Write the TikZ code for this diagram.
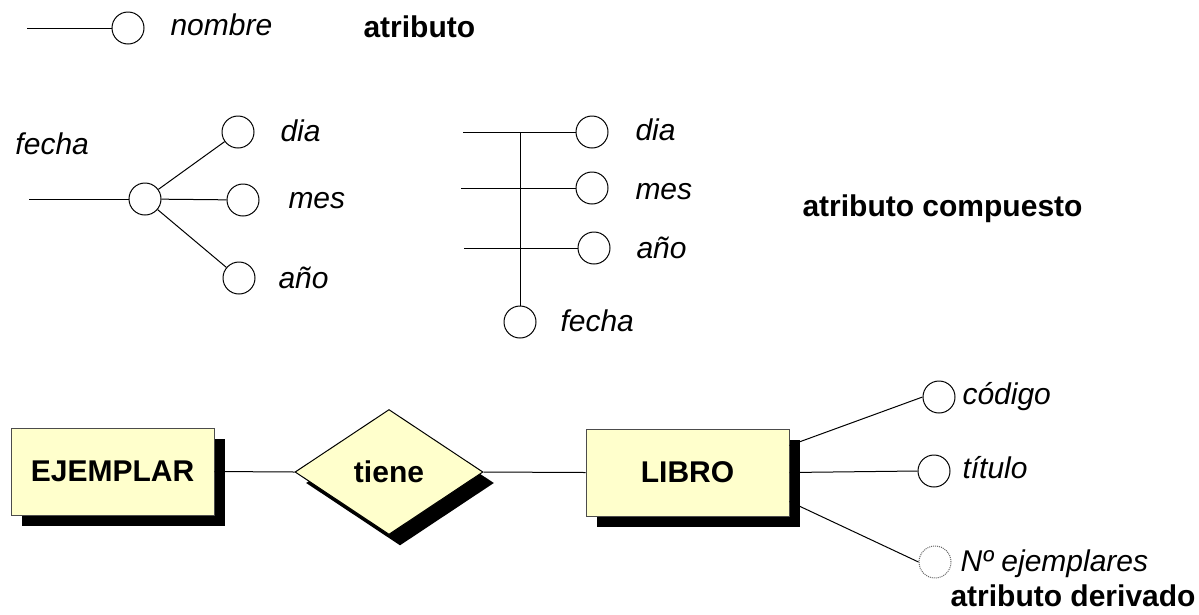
\documentclass[tikz,border=0pt]{standalone}
\usepackage{fontspec}
\setmainfont{Liberation Sans}
\usepackage{tikz}
\usetikzlibrary{shapes.geometric,shadows}
\definecolor{erfill}{RGB}{255,255,204}
\newcommand{\ERsz}{\fontsize{30}{36}\selectfont}
\tikzset{
  attr/.style={circle, draw, minimum size=32pt, inner sep=0pt},
  derived/.style={attr, draw=black!60, densely dotted},
  lbl/.style={anchor=base west, inner sep=0pt, font=\ERsz\itshape},
  tag/.style={anchor=base west, inner sep=0pt, font=\ERsz\bfseries},
  ershadow/.style={drop shadow={shadow xshift=11pt, shadow yshift=-11pt, opacity=1, fill=black}},
  entity/.style={rectangle, draw=black!70, fill=erfill, minimum width=203pt, minimum height=87pt, font=\ERsz\bfseries, ershadow},
  relation/.style={diamond, draw, fill=erfill, minimum width=188pt, minimum height=125pt, inner sep=0pt, font=\ERsz\bfseries, ershadow}
}

\begin{document}
\begin{tikzpicture}[x=1pt, y=-1pt, line width=1pt]
  \useasboundingbox (0,0) rectangle (1199,614);

  %% simple attribute
  \coordinate (n0) at (27,28);
  \node[attr] (nom) at (128,28) {};
  \node[lbl] (nomlbl) at (170,35) {nombre};
  \node[tag] (tag1) at (363,37) {atributo};
  \draw (n0) -- (nom.west);

  %% composite attribute, tree form
  \coordinate (f0) at (29,199);
  \node[lbl] (fechalbl) at (15,154) {fecha};
  \node[attr] (fc) at (145,199) {};
  \node[attr] (dia1) at (238,132) {};
  \node[attr] (mes1) at (243,200) {};
  \node[attr] (ano1) at (239,278) {};
  \node[lbl] (dia1lbl) at (280,141) {dia};
  \node[lbl] (mes1lbl) at (288,208) {mes};
  \node[lbl] (ano1lbl) at (278,288) {año};
  \draw (f0) -- (fc.west);
  \draw (fc) -- (dia1);
  \draw (fc) -- (mes1);
  \draw (fc) -- (ano1);

  %% composite attribute, comb form
  \coordinate (d0) at (463,132);
  \coordinate (m0) at (461,188);
  \coordinate (a0) at (464,248);
  \coordinate (j0) at (520,132);
  \node[attr] (dia2) at (592,132) {};
  \node[attr] (mes2) at (592,188) {};
  \node[attr] (ano2) at (594,248) {};
  \node[attr] (fecha2) at (520,322) {};
  \node[lbl] (dia2lbl) at (635,140) {dia};
  \node[lbl] (mes2lbl) at (635,199) {mes};
  \node[lbl] (ano2lbl) at (636,258) {año};
  \node[lbl] (fecha2lbl) at (560,331) {fecha};
  \draw (d0) -- (dia2.west);
  \draw (m0) -- (mes2.west);
  \draw (a0) -- (ano2.west);
  \draw (j0) -- (fecha2.north);
  \node[tag] (tag2) at (802,216) {atributo compuesto};

  %% entities and relation
  \node[entity] (ejemplar) at (112.5,471.5) {EJEMPLAR};
  \node[relation] (tiene) at (389,472) {tiene};
  \node[entity] (libro) at (687.5,472.5) {LIBRO};
  \draw (ejemplar.east) -- (tiene.west);
  \draw (tiene.east) -- (libro.west);

  %% attributes of LIBRO
  \node[attr] (cod) at (939,397) {};
  \node[attr] (tit) at (934,471) {};
  \node[derived] (nej) at (935,562) {};
  \node[lbl] (codlbl) at (962,404) {código};
  \node[lbl] (titlbl) at (962,478) {título};
  \node[lbl] (nejlbl) at (960,571) {Nº ejemplares};
  \node[tag] (tag3) at (950,606) {atributo derivado};
  \draw ([yshift=27pt]libro.east) -- (cod.west);
  \draw (libro.east) -- (tit.west);
  \draw ([yshift=-29pt]libro.east) -- (nej.west);
\end{tikzpicture}
\end{document}
